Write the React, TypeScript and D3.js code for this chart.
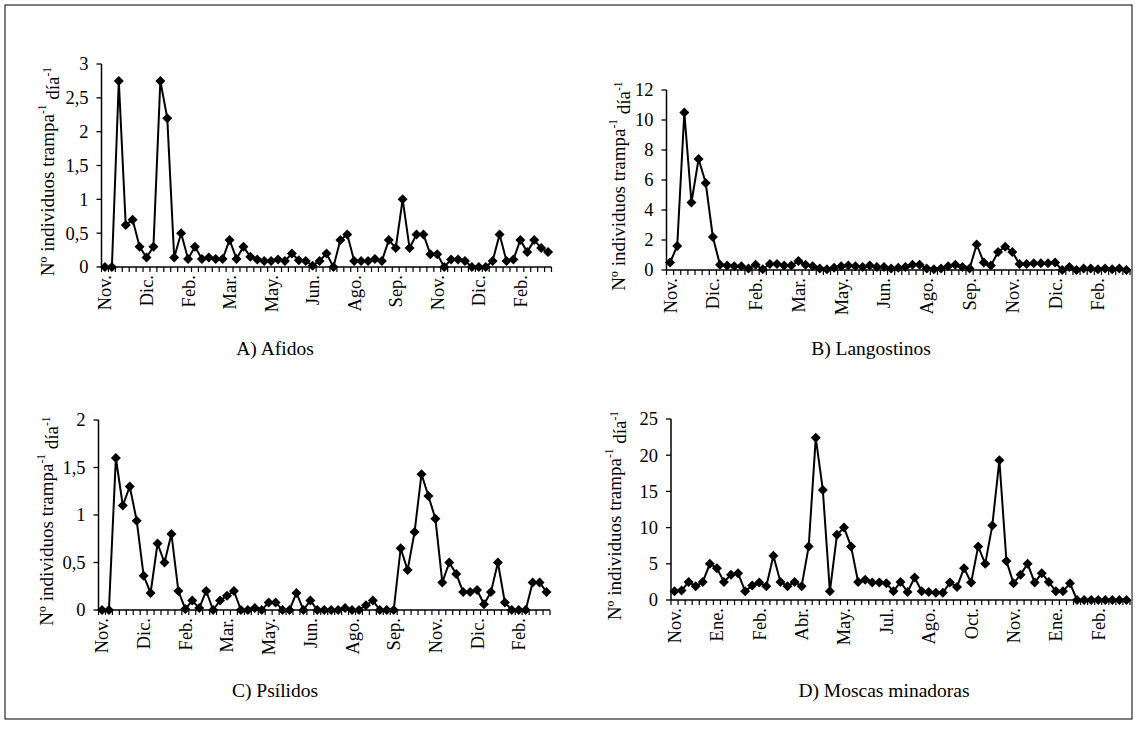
import React from 'react';
import * as d3 from 'd3';

// month labels, shown every 6th sampling date
const monthsABC = ['Nov.', 'Dic.', 'Feb.', 'Mar.', 'May.', 'Jun.', 'Ago.', 'Sep.', 'Nov.', 'Dic.', 'Feb.'];
const monthsD = ['Nov.', 'Ene.', 'Feb.', 'Abr.', 'May.', 'Jul.', 'Ago.', 'Oct.', 'Nov.', 'Ene.', 'Feb.'];

const afidos = [
  0, 0, 2.75, 0.62, 0.7, 0.3, 0.14, 0.3, 2.75, 2.2,
  0.14, 0.5, 0.12, 0.3, 0.12, 0.14, 0.12, 0.12, 0.4, 0.12,
  0.3, 0.15, 0.11, 0.09, 0.09, 0.11, 0.09, 0.2, 0.1, 0.09,
  0.02, 0.09, 0.2, 0, 0.4, 0.48, 0.09, 0.09, 0.09, 0.12,
  0.09, 0.4, 0.28, 1.0, 0.28, 0.48, 0.48, 0.19, 0.19, 0,
  0.11, 0.11, 0.09, 0, 0, 0, 0.09, 0.48, 0.09, 0.11,
  0.4, 0.22, 0.4, 0.28, 0.22,
];

const langostinos = [
  0.5, 1.6, 10.5, 4.5, 7.4, 5.8, 2.2, 0.35, 0.3, 0.25,
  0.25, 0.1, 0.35, 0.05, 0.4, 0.4, 0.3, 0.3, 0.6, 0.35,
  0.25, 0.1, 0.05, 0.15, 0.25, 0.3, 0.25, 0.2, 0.3, 0.2,
  0.2, 0.1, 0.15, 0.2, 0.35, 0.35, 0.1, 0.05, 0.1, 0.25,
  0.35, 0.2, 0.1, 1.7, 0.5, 0.3, 1.2, 1.55, 1.2, 0.4,
  0.4, 0.45, 0.45, 0.45, 0.5, 0, 0.2, 0, 0.1, 0.1,
  0.05, 0.1, 0.05, 0.1, 0,
];

const psilidos = [
  0, 0, 1.6, 1.1, 1.3, 0.94, 0.36, 0.18, 0.7, 0.5,
  0.8, 0.2, 0.01, 0.1, 0.02, 0.2, 0, 0.1, 0.15, 0.2,
  0, 0, 0.02, 0, 0.08, 0.08, 0, 0, 0.18, 0,
  0.1, 0, 0, 0, 0, 0.02, 0, 0, 0.05, 0.1,
  0, 0, 0, 0.65, 0.42, 0.82, 1.43, 1.2, 0.96, 0.29,
  0.5, 0.38, 0.19, 0.19, 0.21, 0.06, 0.19, 0.5, 0.08, 0,
  0, 0, 0.29, 0.29, 0.19,
];

const moscas = [
  1.2, 1.3, 2.5, 1.9, 2.5, 5.0, 4.4, 2.5, 3.5, 3.7,
  1.2, 2.0, 2.4, 1.9, 6.1, 2.5, 1.9, 2.5, 1.9, 7.4,
  22.4, 15.2, 1.2, 9.0, 10.0, 7.4, 2.5, 2.8, 2.4, 2.4,
  2.3, 1.2, 2.5, 1.1, 3.1, 1.2, 1.1, 1.0, 1.0, 2.4,
  1.8, 4.4, 2.4, 7.4, 5.0, 10.3, 19.3, 5.4, 2.3, 3.5,
  5.0, 2.4, 3.7, 2.5, 1.2, 1.2, 2.3, 0, 0, 0,
  0, 0, 0, 0, 0,
];

const FONT = '"Liberation Serif", "Times New Roman", serif';

function Panel({ values, months, yMax, yStep, box, title }) {
  const { x0, x1, yTop, yBot, ytX, ttlX, ttlY } = box;
  const n = values.length;
  const x = d3.scaleBand().domain(d3.range(n)).range([x0, x1]).padding(0);
  const y = d3.scaleLinear().domain([0, yMax]).range([yBot, yTop]);
  const cx = (i) => x(i) + x.bandwidth() / 2;
  const line = d3.line().x((d, i) => cx(i)).y((d) => y(d));
  const yTicks = d3.range(0, yMax + yStep / 2, yStep);
  const fmt = (v) => d3.format('~g')(v).replace('.', ',');
  const bounds = d3.range(n + 1).map((i) => (i < n ? x(i) : x1));
  const r = 5;

  return (
    <g>
      {/* y axis */}
      <line x1={x0} x2={x0} y1={yTop} y2={yBot} stroke="#000" strokeWidth={1.5} />
      {yTicks.map((t) => (
        <g key={t}>
          <line x1={x0 - 5} x2={x0} y1={y(t)} y2={y(t)} stroke="#000" strokeWidth={1.3} />
          <text x={x0 - 13} y={y(t)} dy="0.35em" textAnchor="end" fontSize={18.5} fontFamily={FONT}>
            {fmt(t)}
          </text>
        </g>
      ))}
      {/* x axis, one tick between every two dates */}
      <line x1={x0} x2={x1} y1={yBot} y2={yBot} stroke="#000" strokeWidth={1.5} />
      {bounds.map((bx, i) => (
        <line key={i} x1={bx} x2={bx} y1={yBot} y2={yBot + 5} stroke="#000" strokeWidth={1.2} />
      ))}
      {months.map((m, k) => (
        <text
          key={k}
          transform={`translate(${cx(k * 6)},${yBot + 8}) rotate(-90)`}
          dy="0.35em"
          textAnchor="end"
          fontSize={18.5}
          fontFamily={FONT}
        >
          {m}
        </text>
      ))}
      {/* axis title */}
      <text
        transform={`translate(${ytX},${(yTop + yBot) / 2 + 6}) rotate(-90)`}
        dy="0.35em"
        textAnchor="middle"
        fontSize={19}
        fontFamily={FONT}
      >
        Nº individuos trampa
        <tspan fontSize={11.5} dy="-0.7em">-1</tspan>
        <tspan dy="0.7em"> día</tspan>
        <tspan fontSize={11.5} dy="-0.7em">-1</tspan>
      </text>
      {/* series */}
      <path d={line(values)} fill="none" stroke="#000" strokeWidth={2} />
      {values.map((v, i) => (
        <path
          key={i}
          d={`M${cx(i)},${y(v) - r}L${cx(i) + r},${y(v)}L${cx(i)},${y(v) + r}L${cx(i) - r},${y(v)}Z`}
          fill="#000"
        />
      ))}
      <text x={ttlX} y={ttlY} textAnchor="middle" fontSize={19.5} fontFamily={FONT}>
        {title}
      </text>
    </g>
  );
}

export default function App() {
  return (
    <svg
      width={1135}
      height={734}
      style={{ position: 'absolute', left: 0, top: 0, background: '#fff' }}
    >
      <rect x={5} y={5} width={1127} height={714} fill="none" stroke="#000" strokeWidth={1} />
      <Panel
        values={afidos}
        months={monthsABC}
        yMax={3}
        yStep={0.5}
        title="A) Afidos"
        box={{ x0: 101.5, x1: 551.5, yTop: 64, yBot: 267, ytX: 47, ttlX: 275, ttlY: 355 }}
      />
      <Panel
        values={langostinos}
        months={monthsABC}
        yMax={12}
        yStep={2}
        title="B) Langostinos"
        box={{ x0: 666.5, x1: 1130, yTop: 90, yBot: 270, ytX: 618, ttlX: 871, ttlY: 355 }}
      />
      <Panel
        values={psilidos}
        months={monthsABC}
        yMax={2}
        yStep={0.5}
        title="C) Psílidos"
        box={{ x0: 98.5, x1: 550, yTop: 420, yBot: 610, ytX: 46, ttlX: 275, ttlY: 697 }}
      />
      <Panel
        values={moscas}
        months={monthsD}
        yMax={25}
        yStep={5}
        title="D) Moscas minadoras"
        box={{ x0: 671, x1: 1130, yTop: 419, yBot: 600, ytX: 614, ttlX: 884, ttlY: 697 }}
      />
    </svg>
  );
}
